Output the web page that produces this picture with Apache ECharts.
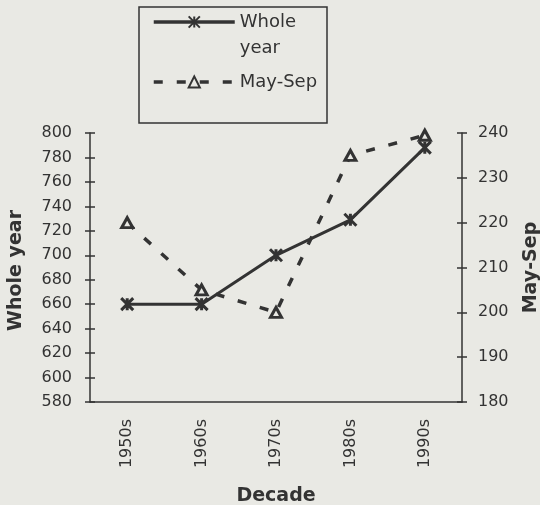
<html>
<head>
<meta charset="utf-8">
<title>Whole year / May-Sep by decade</title>
<script src="https://cdn.jsdelivr.net/npm/echarts@6/dist/echarts.min.js"></script>
<style>
  body { margin: 0; background: #e9e9e4; }
  #main { width: 540px; height: 505px; }
</style>
</head>
<body>
<div id="main"></div>
<script type="text/javascript">
// data
var decades = ['1950s', '1960s', '1970s', '1980s', '1990s'];
var wholeYear = [660, 660, 700, 729, 788];
var maySep = [220, 205, 200, 235, 239.5];
var leftTicks = { min: 580, max: 800, step: 20 };
var rightTicks = { min: 180, max: 240, step: 10 };

var ink = '#333333';
var font = 'DejaVu Sans';
var asterisk = 'path://M0,0L10,10M10,0L0,10M5,0L5,10';

var myChart = echarts.init(document.getElementById('main'));

function yAx(t, pos, inner) {
    return {
        type: 'value', position: pos,
        min: t.min, max: t.max, interval: t.step,
        splitLine: { show: false },
        axisLine: { show: !inner, lineStyle: { color: ink, width: 1.5 } },
        axisTick: { show: true, inside: !!inner, length: 5, lineStyle: { color: ink, width: 1.5 } },
        axisLabel: { show: !inner, color: ink, fontFamily: font, fontSize: 16, margin: pos == 'left' ? 18 : 16 }
    };
}

var left = yAx(leftTicks, 'left');
left.name = 'Whole year';
left.nameLocation = 'middle';
left.nameGap = 64;
left.nameTextStyle = { color: ink, fontFamily: font, fontSize: 19, fontWeight: 'bold', padding: [0, 6, 0, 0] };

var right = yAx(rightTicks, 'right');
right.name = 'May-Sep';
right.nameLocation = 'middle';
right.nameGap = 60;
right.nameTextStyle = { color: ink, fontFamily: font, fontSize: 19, fontWeight: 'bold' };

myChart.setOption({
    backgroundColor: '#e9e9e4',
    animation: false,
    grid: { left: 90, right: 78, top: 133, bottom: 103, outerBoundsMode: 'none' },
    legend: {
        orient: 'vertical',
        left: 152, top: -17,
        padding: 0,
        itemWidth: 81, itemHeight: 14, itemGap: 8,
        data: ['Whole year', 'May-Sep'],
        // blank first line keeps the icon level with "Whole"
        formatter: function (n) { return n == 'Whole year' ? '\u3000\nWhole\nyear' : n; },
        lineStyle: { width: 3.5 },
        textStyle: { color: ink, fontFamily: font, fontSize: 18, lineHeight: 26 }
    },
    graphic: [{
        type: 'rect',
        shape: { x: 139, y: 7, width: 188, height: 116 },
        style: { fill: 'none', stroke: ink, lineWidth: 1.5 }
    }],
    xAxis: [{
        type: 'category', data: decades, boundaryGap: true,
        name: 'Decade', nameLocation: 'middle', nameGap: 85,
        nameTextStyle: { color: ink, fontFamily: font, fontSize: 19, fontWeight: 'bold' },
        axisLine: { lineStyle: { color: ink, width: 1.5 } },
        axisTick: { length: 5, lineStyle: { color: ink, width: 1.5 } },
        axisLabel: { rotate: 90, color: ink, fontFamily: font, fontSize: 16, margin: 17 }
    }, {
        type: 'category', data: decades, position: 'bottom',
        axisLine: { show: false },
        axisTick: { inside: true, length: 5, lineStyle: { color: ink, width: 1.5 } },
        axisLabel: { show: false }
    }],
    yAxis: [left, right, yAx(leftTicks, 'left', true), yAx(rightTicks, 'right', true)],
    series: [{
        name: 'Whole year',
        type: 'line',
        yAxisIndex: 0,
        data: wholeYear,
        symbol: asterisk,
        symbolSize: 12,
        itemStyle: { color: 'rgba(0,0,0,0)', borderColor: ink, borderWidth: 3 },
        lineStyle: { color: ink, width: 3 },
        z: 3
    }, {
        name: 'May-Sep',
        type: 'line',
        yAxisIndex: 1,
        data: maySep,
        symbol: 'triangle',
        symbolSize: [11, 10],
        itemStyle: { color: '#e9e9e4', borderColor: ink, borderWidth: 3 },
        lineStyle: { color: ink, width: 3.5, type: [9, 14] },
        z: 2
    }]
});
</script>
</body>
</html>
